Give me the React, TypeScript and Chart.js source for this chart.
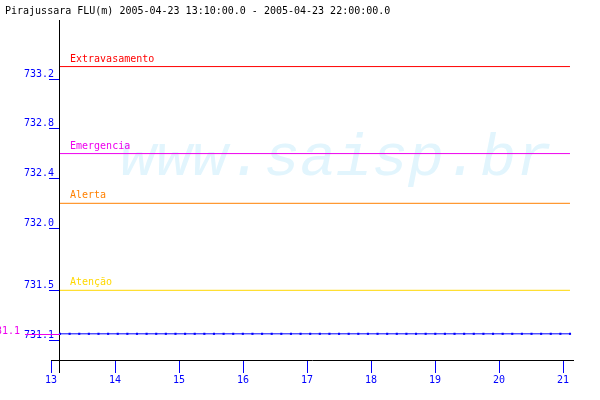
import React, { useEffect, useRef } from "react";
import { Chart, registerables } from "chart.js";

Chart.register(...registerables);

const TITLE = "Pirajussara FLU(m) 2005-04-23 13:10:00.0 - 2005-04-23 22:00:00.0";
const WATERMARK = "www.saisp.br";

const times = [
  "13:10", "13:20", "13:30", "13:40", "13:50",
  "14:00", "14:10", "14:20", "14:30", "14:40", "14:50",
  "15:00", "15:10", "15:20", "15:30", "15:40", "15:50",
  "16:00", "16:10", "16:20", "16:30", "16:40", "16:50",
  "17:00", "17:10", "17:20", "17:30", "17:40", "17:50",
  "18:00", "18:10", "18:20", "18:30", "18:40", "18:50",
  "19:00", "19:10", "19:20", "19:30", "19:40", "19:50",
  "20:00", "20:10", "20:20", "20:30", "20:40", "20:50",
  "21:00", "21:10", "21:20", "21:30", "21:40", "21:50",
  "22:00",
];

const levels = [
  731.15, 731.15, 731.15, 731.15, 731.15,
  731.15, 731.15, 731.15, 731.15, 731.15, 731.15,
  731.15, 731.15, 731.15, 731.15, 731.15, 731.15,
  731.15, 731.15, 731.15, 731.15, 731.15, 731.15,
  731.15, 731.15, 731.15, 731.15, 731.15, 731.15,
  731.15, 731.15, 731.15, 731.15, 731.15, 731.15,
  731.15, 731.15, 731.15, 731.15, 731.15, 731.15,
  731.15, 731.15, 731.15, 731.15, 731.15, 731.15,
  731.15, 731.15, 731.15, 731.15, 731.15, 731.15,
  731.15,
];

const xTickValues = [13, 14, 15, 16, 17, 18, 19, 20, 21];
const yTickValues = [733.2, 732.8, 732.4, 732.0, 731.5, 731.1];

const thresholdNames = ["Extravasamento", "Emergencia", "Alerta", "Atenção"];
const thresholdValues = [733.3, 732.6, 732.2, 731.5];
const thresholdColors = ["#ff0000", "#ee00ee", "#ff8000", "#ffd800"];

const FONT = '"DejaVu Sans Mono", monospace';

const toHours = (t: string) => {
  const [h, m] = t.split(":").map(Number);
  return h + m / 60;
};

export default function App() {
  const ref = useRef<HTMLCanvasElement | null>(null);

  useEffect(() => {
    const canvas = ref.current;
    if (!canvas) return;
    document.body.style.margin = "0";

    const hours = times.map(toHours);
    const startH = hours[0];
    const endH = hours[hours.length - 1];

    const datasets: any[] = thresholdValues.map((v, i) => ({
      label: thresholdNames[i],
      data: [
        { x: startH, y: v },
        { x: endH, y: v },
      ],
      borderColor: thresholdColors[i],
      borderWidth: 1,
      pointRadius: 0,
      xAxisID: "xd",
      yAxisID: "y",
    }));
    datasets.push({
      label: "Nível",
      data: hours.map((h, i) => ({ x: h, y: levels[i] })),
      borderColor: "#0000ff",
      backgroundColor: "#0000ff",
      borderWidth: 1,
      pointStyle: "rect",
      pointRadius: 1.5,
      pointBorderWidth: 0,
      pointBackgroundColor: "#0000ff",
      xAxisID: "xd",
      yAxisID: "y",
    });

    const deco = {
      id: "deco",
      beforeDraw(chart: any) {
        const ctx = chart.ctx;
        ctx.save();
        ctx.font = `10px ${FONT}`;
        ctx.fillStyle = "#000000";
        ctx.textAlign = "left";
        ctx.textBaseline = "alphabetic";
        ctx.fillText(TITLE, 5, 14);
        ctx.font = 'italic 60px "Liberation Mono", monospace';
        ctx.fillStyle = "#e2f5fd";
        ctx.fillText(WATERMARK, 120, 175);
        ctx.restore();
      },
      afterDatasetsDraw(chart: any) {
        const ctx = chart.ctx;
        const ys = chart.scales.y;
        const xs = chart.scales.xd;
        const x0 = xs.getPixelForValue(startH);
        ctx.save();
        ctx.font = `10px ${FONT}`;
        ctx.textAlign = "left";
        ctx.textBaseline = "alphabetic";
        thresholdValues.forEach((v, i) => {
          ctx.fillStyle = thresholdColors[i];
          ctx.fillText(thresholdNames[i], x0 + 10, ys.getPixelForValue(v) - 5);
        });
        const last = levels[levels.length - 1];
        const yv = Math.round(ys.getPixelForValue(last)) + 0.5;
        ctx.strokeStyle = "#ee00ee";
        ctx.lineWidth = 1;
        ctx.beginPath();
        ctx.moveTo(25, yv);
        ctx.lineTo(x0, yv);
        ctx.stroke();
        ctx.fillStyle = "#ee00ee";
        ctx.textAlign = "right";
        ctx.fillText((Math.floor(last * 10) / 10).toFixed(1), 20, yv - 1);
        ctx.restore();
      },
    };

    const chart = new Chart(canvas, {
      type: "line",
      data: { datasets },
      options: {
        animation: false,
        responsive: false,
        events: [],
        layout: { padding: { left: 51, right: 27, top: 20, bottom: 28 } },
        plugins: {
          legend: { display: false },
          title: { display: false },
          tooltip: { enabled: false },
        },
        scales: {
          x: {
            type: "linear",
            min: 13,
            max: 21.15625,
            position: { y: 730.9393 } as any,
            afterBuildTicks: (s: any) => {
              s.ticks = xTickValues.map((v) => ({ value: v }));
            },
            ticks: {
              color: "#0000ff",
              font: { family: FONT, size: 10 },
              padding: 2,
              autoSkip: false,
              maxRotation: 0,
              callback: (v: any) => String(v),
            },
            grid: {
              drawOnChartArea: false,
              tickColor: "#0000ff",
              tickLength: 12,
              tickWidth: 1,
            },
            border: { color: "#000000", width: 1 },
          },
          xd: {
            type: "linear",
            display: false,
            min: 13.0108,
            max: 22.052,
          },
          y: {
            type: "linear",
            min: 730.8428,
            max: 733.6747,
            position: { xd: 13 + 10 / 60 } as any,
            afterBuildTicks: (s: any) => {
              s.ticks = yTickValues.map((v) => ({ value: v }));
            },
            ticks: {
              color: "#0000ff",
              font: { family: FONT, size: 10 },
              labelOffset: -5,
              autoSkip: false,
              callback: (v: any) => Number(v).toFixed(1) + " ",
            },
            grid: {
              drawOnChartArea: false,
              tickColor: "#0000ff",
              tickLength: 10,
              tickWidth: 1,
            },
            border: { color: "#000000", width: 1 },
          },
        },
      },
      plugins: [deco],
    });

    return () => chart.destroy();
  }, []);

  return (
    <div style={{ position: "fixed", left: 0, top: 0, width: 600, height: 400, background: "#ffffff" }}>
      <canvas ref={ref} width={600} height={400} />
    </div>
  );
}
